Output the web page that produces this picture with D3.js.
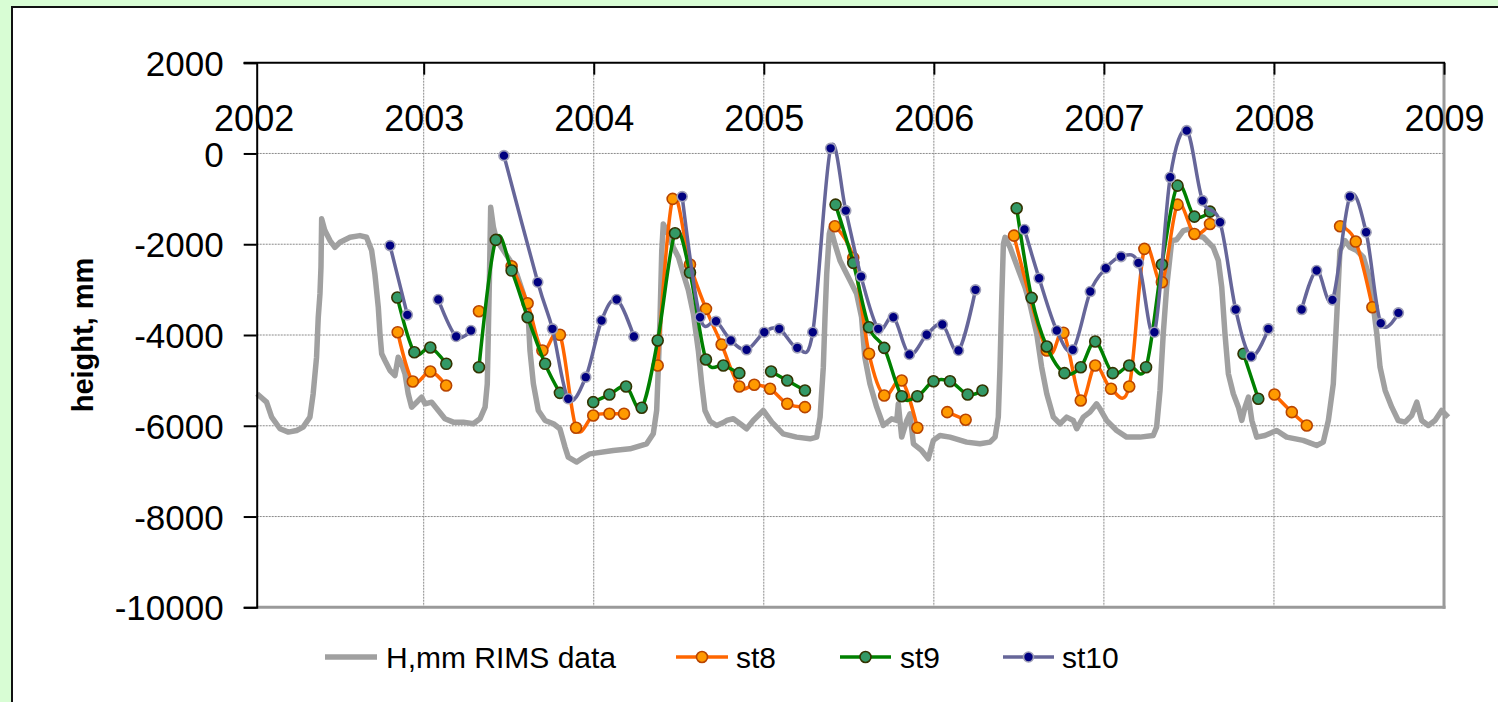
<!DOCTYPE html>
<html>
<head>
<meta charset="utf-8">
<script src="https://cdn.jsdelivr.net/npm/d3@7"></script>
<style>
  html, body { margin: 0; padding: 0; background: #d8fdd4; }
  svg { display: block; }
  text { font-family: "Liberation Sans", Arial, sans-serif; fill: #000; }
</style>
</head>
<body>
<svg id="chart" width="1498" height="702"></svg>
<script>
// ---------------- data ----------------
const yearTicks = [2002, 2003, 2004, 2005, 2006, 2007, 2008, 2009];
const valueTicks = [2000, 0, -2000, -4000, -6000, -8000, -10000];
const seriesNames = ["H,mm RIMS data", "st8", "st9", "st10"];

// RIMS gauge record [decimal year, height mm]
const rims = [
  [2002.020,-5295],[2002.076,-5480],[2002.106,-5810],[2002.155,-6066],[2002.204,-6140],[2002.253,-6103],
  [2002.291,-6030],[2002.331,-5810],[2002.350,-5295],[2002.370,-4490],[2002.380,-3608],[2002.390,-3094],
  [2002.396,-2506],[2002.400,-1441],[2002.419,-1700],[2002.449,-1920],[2002.478,-2067],[2002.508,-1957],
  [2002.567,-1847],[2002.625,-1810],[2002.664,-1847],[2002.694,-2140],[2002.713,-2653],[2002.733,-3388],
  [2002.743,-3975],[2002.753,-4414],[2002.772,-4562],[2002.802,-4782],[2002.831,-4892],[2002.850,-4489],
  [2002.870,-4635],[2002.890,-4855],[2002.909,-5295],[2002.929,-5590],[2002.959,-5480],[2002.988,-5370],
  [2003.008,-5516],[2003.047,-5480],[2003.086,-5663],[2003.125,-5846],[2003.174,-5920],[2003.233,-5920],
  [2003.292,-5956],[2003.331,-5846],[2003.361,-5590],[2003.374,-5075],[2003.380,-3975],[2003.386,-2873],
  [2003.394,-1186],[2003.410,-1627],[2003.430,-1920],[2003.469,-2140],[2003.508,-2360],[2003.547,-2653],
  [2003.586,-3094],[2003.615,-3608],[2003.625,-4342],[2003.645,-5075],[2003.674,-5663],[2003.714,-5883],
  [2003.763,-5956],[2003.801,-6066],[2003.831,-6470],[2003.850,-6691],[2003.900,-6800],[2003.939,-6700],
  [2003.977,-6620],[2004.115,-6544],[2004.213,-6507],[2004.311,-6397],[2004.350,-6177],[2004.370,-5663],
  [2004.380,-4709],[2004.390,-3608],[2004.400,-2140],[2004.409,-1553],[2004.439,-1773],[2004.468,-2067],
  [2004.498,-2287],[2004.527,-2653],[2004.557,-3021],[2004.586,-3535],[2004.615,-4342],[2004.635,-5075],
  [2004.654,-5663],[2004.684,-5900],[2004.723,-5993],[2004.762,-5930],[2004.782,-5883],[2004.821,-5846],
  [2004.861,-5956],[2004.899,-6066],[2004.938,-5883],[2004.997,-5663],[2005.047,-5920],[2005.114,-6177],
  [2005.193,-6250],[2005.272,-6287],[2005.311,-6250],[2005.331,-5810],[2005.350,-4709],[2005.360,-3608],
  [2005.370,-2653],[2005.385,-1773],[2005.393,-1650],[2005.418,-1992],[2005.448,-2360],[2005.477,-2580],
  [2005.507,-2800],[2005.546,-3094],[2005.575,-3608],[2005.594,-4489],[2005.624,-5075],[2005.664,-5590],
  [2005.703,-5993],[2005.752,-5846],[2005.782,-5883],[2005.791,-5516],[2005.811,-6250],[2005.841,-5883],
  [2005.860,-5736],[2005.880,-6397],[2005.928,-6544],[2005.967,-6727],[2005.997,-6323],[2006.036,-6213],
  [2006.095,-6250],[2006.193,-6360],[2006.271,-6397],[2006.330,-6360],[2006.360,-6250],[2006.379,-5810],
  [2006.389,-4709],[2006.399,-3241],[2006.409,-1992],[2006.419,-1847],[2006.448,-2067],[2006.477,-2360],
  [2006.506,-2653],[2006.536,-2947],[2006.565,-3314],[2006.605,-3975],[2006.634,-4709],[2006.664,-5295],
  [2006.703,-5810],[2006.742,-5956],[2006.781,-5810],[2006.820,-5883],[2006.840,-6066],[2006.879,-5810],
  [2006.918,-5700],[2006.957,-5516],[2006.977,-5626],[2007.016,-5883],[2007.075,-6103],[2007.134,-6250],
  [2007.212,-6250],[2007.290,-6213],[2007.310,-6030],[2007.330,-5222],[2007.349,-3975],[2007.369,-2947],
  [2007.399,-1920],[2007.428,-1900],[2007.467,-1700],[2007.507,-1663],[2007.546,-1810],[2007.585,-1847],
  [2007.643,-2067],[2007.673,-2360],[2007.693,-2947],[2007.712,-3975],[2007.732,-4855],[2007.761,-5295],
  [2007.791,-5590],[2007.811,-5883],[2007.830,-5590],[2007.850,-5370],[2007.870,-5883],[2007.899,-6250],
  [2007.947,-6213],[2008.016,-6103],[2008.075,-6250],[2008.172,-6323],[2008.251,-6433],[2008.290,-6360],
  [2008.320,-5883],[2008.349,-5075],[2008.369,-3608],[2008.388,-2140],[2008.418,-1920],[2008.447,-2067],
  [2008.487,-2140],[2008.526,-2287],[2008.555,-2653],[2008.585,-3388],[2008.605,-3975],[2008.624,-4709],
  [2008.654,-5222],[2008.693,-5590],[2008.731,-5883],[2008.771,-5920],[2008.810,-5773],[2008.840,-5480],
  [2008.869,-5883],[2008.908,-5993],[2008.947,-5883],[2008.986,-5663],[2009.025,-5810]
];

// station series; null = gap in the line
const st8 = [
  [2002.847,-3938],[2002.936,-5024],[2003.039,-4804],[2003.132,-5112], null,
  [2003.325,-3476], null,
  [2003.517,-2485],[2003.611,-3300],[2003.698,-4342],[2003.801,-3996],[2003.896,-6044],[2003.997,-5773],
  [2004.092,-5736],[2004.178,-5736], null,
  [2004.376,-4672],[2004.464,-1001],[2004.566,-2448],[2004.660,-3424],[2004.752,-4210],[2004.856,-5134],
  [2004.944,-5097],[2005.037,-5185],[2005.138,-5516],[2005.242,-5590], null,
  [2005.418,-1604],[2005.526,-2300],[2005.619,-4414],[2005.708,-5332],[2005.811,-5003],[2005.903,-6044], null,
  [2006.079,-5700],[2006.187,-5868], null,
  [2006.471,-1810],[2006.664,-4342],[2006.762,-3952],[2006.864,-5443],[2006.949,-4672],[2007.042,-5185],
  [2007.149,-5134],[2007.238,-2102],[2007.341,-2837],[2007.433,-1127],[2007.532,-1773],[2007.624,-1553], null,
  [2008.003,-5311],[2008.105,-5700],[2008.193,-5993], null,
  [2008.389,-1604],[2008.481,-1941],[2008.579,-3387]
];
const st9 = [
  [2002.845,-3175],[2002.945,-4379],[2003.039,-4276],[2003.133,-4635], null,
  [2003.325,-4709],[2003.424,-1904],[2003.517,-2580],[2003.611,-3608],[2003.714,-4635],[2003.801,-5275], null,
  [2003.997,-5480],[2004.092,-5311],[2004.190,-5134],[2004.282,-5604],[2004.376,-4120],[2004.478,-1759],
  [2004.566,-2624],[2004.660,-4540],[2004.762,-4672],[2004.856,-4841], null,
  [2005.043,-4804],[2005.138,-5003],[2005.242,-5223], null,
  [2005.422,-1127],[2005.526,-2411],[2005.619,-3829],[2005.708,-4283],[2005.811,-5348],[2005.903,-5348],
  [2005.998,-5018],[2006.095,-5018],[2006.199,-5311],[2006.286,-5223], null,
  [2006.487,-1208],[2006.575,-3181],[2006.664,-4254],[2006.768,-4841],[2006.864,-4709],[2006.949,-4143],
  [2007.052,-4841],[2007.149,-4672],[2007.248,-4709],[2007.341,-2448],[2007.433,-708],[2007.532,-1391],
  [2007.624,-1281], null,
  [2007.821,-4414],[2007.908,-5405]
];
const st10 = [
  [2002.802,-2030],[2002.904,-3556], null,
  [2003.086,-3219],[2003.191,-4033],[2003.278,-3901], null,
  [2003.472,-48],[2003.671,-2837],[2003.757,-3864],[2003.850,-5405],[2003.953,-4929],[2004.046,-3681],
  [2004.135,-3219],[2004.236,-4033], null,
  [2004.520,-950],[2004.625,-3608],[2004.719,-3696],[2004.806,-4120],[2004.899,-4326],[2005.003,-3938],
  [2005.091,-3864],[2005.197,-4283],[2005.288,-3938],[2005.393,113],[2005.482,-1259],[2005.572,-2713],
  [2005.673,-3864],[2005.762,-3608],[2005.856,-4430],[2005.958,-3996],[2006.050,-3769],[2006.145,-4342],
  [2006.245,-3005], null,
  [2006.533,-1677],[2006.619,-2749],[2006.723,-3901],[2006.817,-4326],[2006.920,-3043],[2007.011,-2529],
  [2007.101,-2272],[2007.203,-2411],[2007.297,-3938],[2007.390,-525],[2007.487,503],[2007.580,-1039],
  [2007.683,-1516],[2007.775,-3439],[2007.866,-4474],[2007.967,-3864], null,
  [2008.163,-3439],[2008.251,-2580],[2008.344,-3226],[2008.447,-950],[2008.542,-1736],[2008.628,-3740],
  [2008.732,-3512]
];

// ---------------- drawing ----------------
const svg = d3.select("#chart");
const F = '"Liberation Sans", Arial, sans-serif';

// white chart panel
svg.append("rect").attr("x", 12).attr("y", 7).attr("width", 1500).attr("height", 710)
  .attr("fill", "#ffffff").attr("stroke", "#111").attr("stroke-width", 2);

const x = d3.scaleLinear().domain([2002.018, 2009]).range([256.7, 1444]);
const y = d3.scaleLinear().domain([-10000, 2000]).range([607.3, 62.7]);

const grid = svg.append("g");
// horizontal dotted gridlines
grid.selectAll("line.h").data(valueTicks.filter(v => v < 2000 && v > -10000)).join("line")
  .attr("x1", x(2002.018)).attr("x2", x(2009))
  .attr("y1", d => y(d)).attr("y2", d => y(d))
  .attr("stroke", "#8a8a8a").attr("stroke-width", 1).attr("stroke-dasharray", "2,1");
// vertical dotted gridlines
grid.selectAll("line.v").data(yearTicks.filter(t => t > 2002 && t < 2009)).join("line")
  .attr("x1", d => x(d)).attr("x2", d => x(d))
  .attr("y1", y(2000)).attr("y2", y(-10000))
  .attr("stroke", "#8a8a8a").attr("stroke-width", 1).attr("stroke-dasharray", "2,1");
// plot-area right and bottom border (gray)
grid.append("line").attr("x1", x(2009)).attr("x2", x(2009)).attr("y1", y(2000)).attr("y2", y(-10000) + 1.5)
  .attr("stroke", "#9a9a9a").attr("stroke-width", 3);
grid.append("line").attr("x1", x(2002.018)).attr("x2", x(2009) + 1.5).attr("y1", y(-10000)).attr("y2", y(-10000))
  .attr("stroke", "#9a9a9a").attr("stroke-width", 3);

// series
const line = d3.line().defined(d => d).x(d => x(d[0])).y(d => y(d[1]));
const smooth = d3.line().defined(d => d).x(d => x(d[0])).y(d => y(d[1])).curve(d3.curveCardinal.tension(0));

svg.append("path").datum(rims).attr("d", line)
  .attr("fill", "none").attr("stroke", "#a0a0a0").attr("stroke-width", 5.5).attr("stroke-linejoin", "round");

const styles = [
  {data: st8,  line: "#ff6600", fill: "#ff9a00", stroke: "#b84400", r: 5.5},
  {data: st9,  line: "#008000", fill: "#339966", stroke: "#333300", r: 5.5},
  {data: st10, line: "#666699", fill: "#000080", stroke: "#a0a0b8", r: 5}
];
styles.forEach(s => {
  const g = svg.append("g");
  g.append("path").datum(s.data).attr("d", smooth)
    .attr("fill", "none").attr("stroke", s.line).attr("stroke-width", 3.5).attr("stroke-linejoin", "round");
  g.selectAll("circle").data(s.data.filter(d => d)).join("circle")
    .attr("cx", d => x(d[0])).attr("cy", d => y(d[1])).attr("r", s.r)
    .attr("fill", s.fill).attr("stroke", s.stroke).attr("stroke-width", 1.6);
});

// y axis
const yAxis = svg.append("g").attr("transform", `translate(${x(2002.018)},0)`)
  .call(d3.axisLeft(y).tickValues(valueTicks).tickSize(13).tickPadding(20).tickFormat(d => String(d)));
yAxis.select(".domain").attr("stroke", "#000").attr("stroke-width", 2);
yAxis.selectAll(".tick line").attr("stroke", "#000").attr("stroke-width", 2);
yAxis.selectAll(".tick text").attr("font-family", F).attr("font-size", 35).attr("fill", "#000").attr("dy", "0.36em");

// x axis (drawn on top edge, ticks pointing into plot)
const xAxis = svg.append("g").attr("transform", `translate(0,${y(2000)})`)
  .call(d3.axisBottom(x).tickValues(yearTicks).tickSize(12).tickPadding(31).tickFormat(d => String(d)));
xAxis.select(".domain").remove();
xAxis.append("line").attr("x1", x(2002.018) - 13).attr("x2", x(2009) + 1).attr("y1", 0).attr("y2", 0)
  .attr("stroke", "#000").attr("stroke-width", 2);
xAxis.selectAll(".tick line").attr("stroke", d => d === 2002 ? "none" : "#000").attr("stroke-width", 2);
xAxis.selectAll(".tick text").attr("font-family", F).attr("font-size", 36).attr("fill", "#000");

// y-axis title
svg.append("text").attr("transform", "translate(93,335) rotate(-90)")
  .attr("text-anchor", "middle").attr("font-family", F).attr("font-size", 29).attr("font-weight", "bold")
  .text("height, mm");

// legend
const legend = svg.append("g");
const legendItems = [
  {name: seriesNames[0], x0: 325, x1: 377, tx: 386, color: "#a0a0a0", w: 5.5, marker: null},
  {name: seriesNames[1], x0: 676, x1: 728, tx: 736, color: "#ff6600", w: 3.5, marker: styles[0]},
  {name: seriesNames[2], x0: 840, x1: 891, tx: 900, color: "#008000", w: 3.5, marker: styles[1]},
  {name: seriesNames[3], x0: 1003, x1: 1054, tx: 1062, color: "#666699", w: 3.5, marker: styles[2]}
];
legendItems.forEach(it => {
  legend.append("line").attr("x1", it.x0).attr("x2", it.x1).attr("y1", 657).attr("y2", 657)
    .attr("stroke", it.color).attr("stroke-width", it.w);
  if (it.marker) {
    legend.append("circle").attr("cx", (it.x0 + it.x1) / 2).attr("cy", 657).attr("r", it.marker.r)
      .attr("fill", it.marker.fill).attr("stroke", it.marker.stroke).attr("stroke-width", 1.6);
  }
  legend.append("text").attr("x", it.tx).attr("y", 668).attr("font-family", F).attr("font-size", 30)
    .text(it.name);
});
</script>
</body>
</html>
